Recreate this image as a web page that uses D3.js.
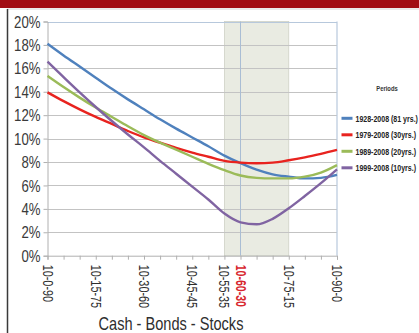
<!DOCTYPE html>
<html><head><meta charset="utf-8">
<script src="https://cdn.jsdelivr.net/npm/d3@7"></script>
<style>
html,body{margin:0;padding:0;background:#fff;overflow:hidden;}
svg{display:block;}
</style></head>
<body>
<svg id="c" width="419" height="333"></svg>
<script>
const categories = ["10-0-90","10-5-85","10-10-80","10-15-75","10-20-70","10-25-65","10-30-60","10-35-55","10-40-50","10-45-45","10-50-40","10-55-35","10-60-30","10-65-25","10-70-20","10-75-15","10-80-10","10-85-5","10-90-0"];
const shownLabels = ["10-0-90","10-15-75","10-30-60","10-45-45","10-55-35","10-60-30","10-75-15","10-90-0"];
const highlightLabel = "10-60-30";
const bandStart = "10-55-35", bandEnd = "10-75-15";
const yTicks = [0,2,4,6,8,10,12,14,16,18,20];
const seriesNames = ["1928-2008 (81 yrs.)","1979-2008 (30yrs.)","1989-2008 (20yrs.)","1999-2008 (10yrs.)"];
const s1928 = [18.1,17.1,16.15,15.2,14.25,13.35,12.5,11.65,10.85,10.1,9.35,8.55,7.9,7.35,6.95,6.75,6.6,6.65,6.9];
const s1979 = [13.95,13.2,12.5,11.85,11.25,10.65,10.1,9.65,9.2,8.8,8.45,8.1,7.95,7.9,7.95,8.15,8.4,8.7,9.03];
const s1989 = [15.35,14.4,13.5,12.65,11.85,11.05,10.3,9.65,9.05,8.45,7.85,7.3,6.85,6.65,6.6,6.6,6.75,7.1,7.74];
const s1999 = [16.57,15.25,13.95,12.7,11.5,10.35,9.25,8.1,7.0,5.9,4.8,3.6,2.85,2.68,3.15,4.05,5.1,6.2,7.38];
const seriesValues = [s1928,s1979,s1989,s1999];
const colors = ["#4f81bd","#e8231f","#9bbb59","#8064a2"];

const svg = d3.select("#c");
const font = "'Liberation Sans',Arial,sans-serif";

// frame
svg.append("rect").attr("x",0).attr("y",0).attr("width",419).attr("height",8).attr("fill","#a10c13");
svg.append("line").attr("x1",7).attr("x2",419).attr("y1",9).attr("y2",9).attr("stroke","#d4d4d4").attr("stroke-width",1);
svg.append("line").attr("x1",7.5).attr("x2",7.5).attr("y1",9).attr("y2",333).attr("stroke","#3a3a3a").attr("stroke-width",1.5);

const x = d3.scalePoint().domain(categories).range([47.5,337]);
const y = d3.scaleLinear().domain([0,20]).range([255.7,21.5]);

// band
svg.append("rect").attr("x",x(bandStart)).attr("y",y(20)).attr("width",x(bandEnd)-x(bandStart)).attr("height",y(0)-y(20))
  .attr("fill","#e9ebe2").attr("stroke","#cfd2c6").attr("stroke-width",0.8);

// gridlines
svg.append("g").selectAll("line").data(yTicks.filter(d=>d>0)).join("line")
  .attr("x1",x.range()[0]).attr("x2",x.range()[1])
  .attr("y1",d=>Math.round(y(d))+0.5).attr("y2",d=>Math.round(y(d))+0.5)
  .attr("stroke",d=>d===20?"#b7c8dc":"#c3c3c3").attr("stroke-width",1);
// right border
svg.append("line").attr("x1",x.range()[1]).attr("x2",x.range()[1]).attr("y1",y(20)).attr("y2",y(0))
  .attr("stroke","#b7c8dc").attr("stroke-width",1.2);
// highlight vertical
svg.append("line").attr("x1",x(highlightLabel)).attr("x2",x(highlightLabel)).attr("y1",y(20)).attr("y2",y(0))
  .attr("stroke","#a9bdd4").attr("stroke-width",1);

// y axis
const yAxis = d3.axisLeft(y).tickValues(yTicks).tickSize(4).tickPadding(4).tickFormat(d=>d+"%");
const gy = svg.append("g").attr("transform",`translate(${x.range()[0]},0)`).call(yAxis);
gy.select(".domain").attr("stroke","#b0b0b0");
gy.selectAll(".tick line").attr("stroke","#b0b0b0");
gy.selectAll("text").attr("font-family",font).attr("font-size",16.5).attr("fill","#3a3a3a")
  .attr("x",0).attr("dy","0.34em").attr("transform","translate(-7,0) scale(0.8,1)");

// x axis
const xAxis = d3.axisBottom(x).tickSize(4).tickFormat(d=>shownLabels.includes(d)?d:"");
const gx = svg.append("g").attr("transform",`translate(0,${y(0)})`).call(xAxis);
gx.select(".domain").attr("stroke","#b0b0b0");
gx.selectAll(".tick line").attr("stroke","#b0b0b0");
gx.selectAll("text").attr("font-family",font).attr("font-size",15.5)
  .attr("fill",d=>d===highlightLabel?"#d7262d":"#2e2e2e")
  .attr("font-weight",d=>d===highlightLabel?"bold":"normal")
  .attr("text-anchor","start").attr("dy","0.35em")
  .attr("transform",d=>d===highlightLabel?"translate(0,9) rotate(90) scale(0.68,1)":"translate(0,9) rotate(90) scale(0.7,1)")
  .attr("x",0).attr("y",0);

// lines
const line = d3.line().x((d,i)=>x(categories[i])).y(d=>y(d)).curve(d3.curveMonotoneX);
svg.append("g").selectAll("path").data(seriesValues).join("path")
  .attr("d",line).attr("fill","none").attr("stroke",(d,i)=>colors[i]).attr("stroke-width",2.4);

// axis title
svg.append("text").attr("transform","translate(171,330) scale(0.81,1)").attr("text-anchor","middle")
  .attr("font-family",font).attr("font-size",18).attr("fill","#2e2e2e").text("Cash - Bonds - Stocks");

// legend
svg.append("text").attr("transform","translate(387,91) scale(0.78,1)").attr("text-anchor","middle")
  .attr("font-family",font).attr("font-size",7.5).attr("font-weight","bold").attr("fill","#333").text("Periods");
const lg = svg.append("g").selectAll("g").data(seriesNames).join("g")
  .attr("transform",(d,i)=>`translate(341.5,${118.3+i*16.5})`);
lg.append("line").attr("x1",0).attr("x2",11).attr("stroke",(d,i)=>colors[i]).attr("stroke-width",3);
lg.append("text").attr("transform","translate(14,0) scale(0.74,1)").attr("dy","0.35em").attr("font-family",font).attr("font-size",9.5)
  .attr("font-weight","bold").attr("fill","#222").text(d=>d);
</script>
</body></html>
